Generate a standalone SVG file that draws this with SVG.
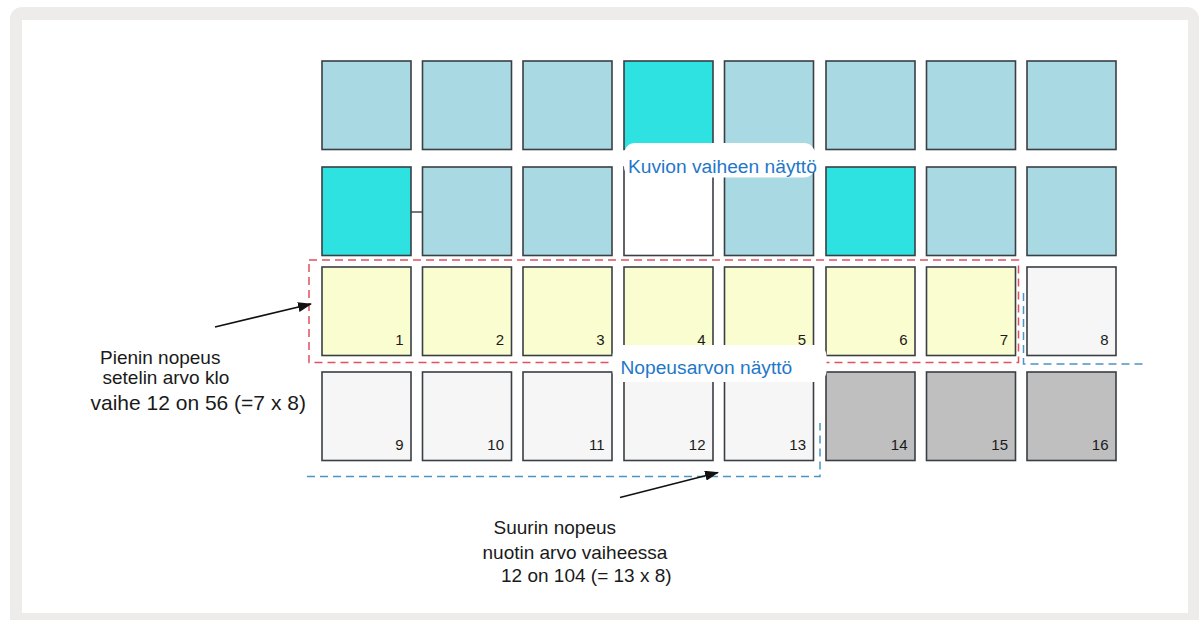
<svg xmlns="http://www.w3.org/2000/svg" width="1203" height="620" viewBox="0 0 1203 620">
  <style>
    .pad { stroke: #3a3f44; stroke-width: 1.6; }
    .lb { fill: #a9d9e3; }
    .cy { fill: #2de2e0; }
    .wh { fill: #ffffff; }
    .ye { fill: #fafdcf; }
    .lg { fill: #f6f6f6; }
    .dg { fill: #bfbfbf; }
    .num { font-family: "Liberation Sans", Arial, sans-serif; font-size: 15px; fill: #1a1a1a; text-anchor: end; }
    .note { font-family: "Liberation Sans", Arial, sans-serif; font-size: 19px; fill: #1a1a1a; }
    .lab { font-family: "Liberation Sans", Arial, sans-serif; font-size: 19.2px; fill: #1f77c9; }
    .bubble { fill: #ffffff; }
    .arrow { stroke: #111; stroke-width: 1.6; fill: none; }
  </style>
  <defs>
    <marker id="ah" markerWidth="14" markerHeight="10" refX="13" refY="5" orient="auto" markerUnits="userSpaceOnUse">
      <path d="M0,0 L14,5 L0,10 Z" fill="#111"/>
    </marker>
  </defs>

  <!-- frame -->
  <rect x="10" y="7" width="1189" height="630" rx="12" fill="#eeeceb"/>
  <rect x="22" y="20" width="1166" height="593" fill="#ffffff"/>

  <!-- row 1 -->
  <g id="r1c1"><rect class="pad lb" x="322" y="61" width="89" height="88.5"/></g>
  <g id="r1c2"><rect class="pad lb" x="422.5" y="61" width="89" height="88.5"/></g>
  <g id="r1c3"><rect class="pad lb" x="523" y="61" width="89" height="88.5"/></g>
  <g id="r1c4"><rect class="pad cy" x="624" y="61" width="89" height="88.5"/></g>
  <g id="r1c5"><rect class="pad lb" x="724.5" y="61" width="89" height="88.5"/></g>
  <g id="r1c6"><rect class="pad lb" x="826" y="61" width="89" height="88.5"/></g>
  <g id="r1c7"><rect class="pad lb" x="926.5" y="61" width="89" height="88.5"/></g>
  <g id="r1c8"><rect class="pad lb" x="1027" y="61" width="89" height="88.5"/></g>

  <!-- row 2 -->
  <g id="r2c1"><rect class="pad cy" x="322" y="167" width="89" height="88.5"/></g>
  <g id="r2c2"><rect class="pad lb" x="422.5" y="167" width="89" height="88.5"/></g>
  <g id="r2c3"><rect class="pad lb" x="523" y="167" width="89" height="88.5"/></g>
  <g id="r2c4"><rect class="pad wh" x="624" y="167" width="89" height="88.5"/></g>
  <g id="r2c5"><rect class="pad lb" x="724.5" y="167" width="89" height="88.5"/></g>
  <g id="r2c6"><rect class="pad cy" x="826" y="167" width="89" height="88.5"/></g>
  <g id="r2c7"><rect class="pad lb" x="926.5" y="167" width="89" height="88.5"/></g>
  <g id="r2c8"><rect class="pad lb" x="1027" y="167" width="89" height="88.5"/></g>

  <!-- row 3 -->
  <g id="s1"><rect class="pad ye" x="322" y="267" width="89" height="88.5"/><text class="num" x="403.5" y="344.5">1</text></g>
  <g id="s2"><rect class="pad ye" x="422.5" y="267" width="89" height="88.5"/><text class="num" x="504" y="344.5">2</text></g>
  <g id="s3"><rect class="pad ye" x="523" y="267" width="89" height="88.5"/><text class="num" x="604.5" y="344.5">3</text></g>
  <g id="s4"><rect class="pad ye" x="624" y="267" width="89" height="88.5"/><text class="num" x="705.5" y="344.5">4</text></g>
  <g id="s5"><rect class="pad ye" x="724.5" y="267" width="89" height="88.5"/><text class="num" x="806" y="344.5">5</text></g>
  <g id="s6"><rect class="pad ye" x="826" y="267" width="89" height="88.5"/><text class="num" x="907.5" y="344.5">6</text></g>
  <g id="s7"><rect class="pad ye" x="926.5" y="267" width="89" height="88.5"/><text class="num" x="1008" y="344.5">7</text></g>
  <g id="s8"><rect class="pad lg" x="1027" y="267" width="89" height="88.5"/><text class="num" x="1108.5" y="344.5">8</text></g>

  <!-- row 4 -->
  <g id="s9"><rect class="pad lg" x="322" y="372" width="89" height="88.5"/><text class="num" x="403.5" y="449.5">9</text></g>
  <g id="s10"><rect class="pad lg" x="422.5" y="372" width="89" height="88.5"/><text class="num" x="504" y="449.5">10</text></g>
  <g id="s11"><rect class="pad lg" x="523" y="372" width="89" height="88.5"/><text class="num" x="604.5" y="449.5">11</text></g>
  <g id="s12"><rect class="pad lg" x="624" y="372" width="89" height="88.5"/><text class="num" x="705.5" y="449.5">12</text></g>
  <g id="s13"><rect class="pad lg" x="724.5" y="372" width="89" height="88.5"/><text class="num" x="806" y="449.5">13</text></g>
  <g id="s14"><rect class="pad dg" x="826" y="372" width="89" height="88.5"/><text class="num" x="907.5" y="449.5">14</text></g>
  <g id="s15"><rect class="pad dg" x="926.5" y="372" width="89" height="88.5"/><text class="num" x="1008" y="449.5">15</text></g>
  <g id="s16"><rect class="pad dg" x="1027" y="372" width="89" height="88.5"/><text class="num" x="1108.5" y="449.5">16</text></g>

  <!-- connectors -->
  <g id="connectors">
    <line x1="411" y1="212" x2="422.5" y2="212" stroke="#3a3f44" stroke-width="1.4"/>
    <rect x="309" y="260" width="709.5" height="102.5" fill="none" stroke="#e2505f" stroke-width="1.5" stroke-dasharray="8 5"/>
    <path d="M1023.5,293 L1023.5,364 L1143,364" fill="none" stroke="#4c94c4" stroke-width="1.5" stroke-dasharray="8 5"/>
    <path d="M307,476.5 L820,476.5 L820,423" fill="none" stroke="#4c94c4" stroke-width="1.5" stroke-dasharray="8 5"/>
    <line class="arrow" x1="215" y1="327" x2="311" y2="304" marker-end="url(#ah)"/>
    <line class="arrow" x1="620" y1="497.5" x2="718" y2="472.5" marker-end="url(#ah)"/>
  </g>

  <!-- labels -->
  <g id="label-kuvion">
    <rect class="bubble" x="624" y="143" width="191" height="34.5" rx="11"/>
    <text class="lab" x="628" y="172.5">Kuvion vaiheen näyttö</text>
  </g>
  <g id="label-nopeus">
    <rect class="bubble" x="612.5" y="345" width="214" height="37" rx="11"/>
    <text class="lab" x="620.5" y="373.5">Nopeusarvon näyttö</text>
  </g>

  <g id="note-min">
    <text class="note" x="100" y="364">Pienin nopeus</text>
    <text class="note" x="102.5" y="384">setelin arvo klo</text>
    <text class="note" x="90.5" y="410" style="font-size:21px">vaihe 12 on 56 (=7 x 8)</text>
  </g>
  <g id="note-max">
    <text class="note" x="493.5" y="534">Suurin nopeus</text>
    <text class="note" x="482.5" y="559">nuotin arvo vaiheessa</text>
    <text class="note" x="501" y="581.5">12 on 104 (= 13 x 8)</text>
  </g>
</svg>
